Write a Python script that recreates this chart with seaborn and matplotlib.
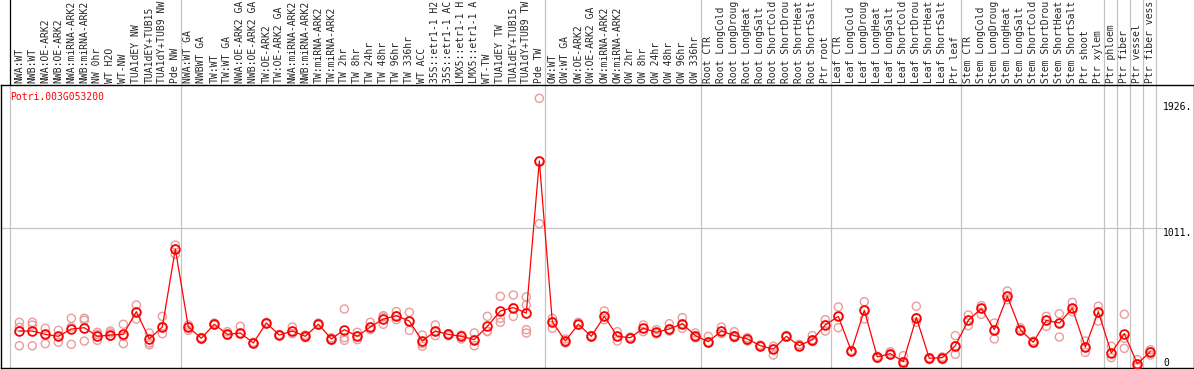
"""
Potri.003G053200 expression profile across samples (eFP-style line plot).
Saves out.png in the current folder.
"""

import matplotlib
matplotlib.use('Agg')
import matplotlib.pyplot as plt
import numpy as np
import pandas as pd
import seaborn as sns

GENE = 'Potri.003G053200'

SAMPLES = [
    'NWA:WT', 'NWB:WT', 'NWA:OE-ARK2', 'NWB:OE-ARK2', 'NWA:miRNA-ARK2',
    'NWB:miRNA-ARK2', 'NW 0hr', 'WT H2O', 'WT-NW', 'TUA1dEY NW',
    'TUA1dEY+TUB15', 'TUA1dY+TUB9 NW', 'Pde NW',
    'NWA:WT GA', 'NWBWT GA', 'TW:WT', 'TW:WT GA', 'NWA:OE-ARK2 GA',
    'NWB:OE-ARK2 GA', 'TW:OE-ARK2', 'TW:OE-ARK2 GA', 'NWA:miRNA-ARK2',
    'NWB:miRNA-ARK2', 'TW:miRNA-ARK2', 'TW:miRNA-ARK2', 'TW 2hr', 'TW 8hr',
    'TW 24hr', 'TW 48hr', 'TW 96hr', 'TW 336hr', 'WT ACC', '35S::etr1-1 H2',
    '35S::etr1-1 AC', 'LMX5::etr1-1 H', 'LMX5::etr1-1 A', 'WT-TW',
    'TUA1dEY TW', 'TUA1dEY+TUB15', 'TUA1dY+TUB9 TW', 'Pde TW',
    'OW:WT', 'OW:WT GA', 'OW:OE-ARK2', 'OW:OE-ARK2 GA', 'OW:miRNA-ARK2',
    'OW:miRNA-ARK2', 'OW 2hr', 'OW 8hr', 'OW 24hr', 'OW 48hr', 'OW 96hr',
    'OW 336hr',
    'Root CTR', 'Root LongCold', 'Root LongDroug', 'Root LongHeat',
    'Root LongSalt', 'Root ShortCold', 'Root ShortDrou', 'Root ShortHeat',
    'Root ShortSalt', 'Ptr root',
    'Leaf CTR', 'Leaf LongCold', 'Leaf LongDroug', 'Leaf LongHeat',
    'Leaf LongSalt', 'Leaf ShortCold', 'Leaf ShortDrou', 'Leaf ShortHeat',
    'Leaf ShortSalt', 'Ptr leaf',
    'Stem CTR', 'Stem LongCold', 'Stem LongDroug', 'Stem LongHeat',
    'Stem LongSalt', 'Stem ShortCold', 'Stem ShortDrou', 'Stem ShortHeat',
    'Stem ShortSalt', 'Ptr shoot', 'Ptr xylem',
    'Ptr phloem', 'Ptr fiber', 'Ptr vessel', 'Ptr fiber vess',
]

MEAN = [
    269, 269, 245, 231, 284, 293, 231, 240, 245, 409, 212, 298, 861,
    298, 217, 318, 245, 255, 183, 327, 240, 269, 231, 318, 212, 279, 231,
    298, 356, 380, 341, 197, 269, 245, 231, 207, 303, 414, 438, 399, 1497,
    337, 197, 318, 231, 375, 231, 221, 289, 260, 284, 322, 236,
    192, 269, 236, 212, 163, 139, 231, 163, 207, 313,
    375, 125, 419, 82, 106, 48, 366, 72, 77, 163,
    346, 433, 279, 520, 279, 188, 346, 327, 433, 154, 409,
    110, 250, 33, 120,
]

REPS = [
    [332, 296, 163], [332, 312, 163], [289, 245, 178], [274, 231, 188],
    [361, 298, 173], [361, 347, 197], [260, 245, 202], [269, 255, 231],
    [318, 231, 178], [457, 409, 356], [255, 183, 169], [375, 303, 250],
    [890, 861, 823],
    [313, 298, 274], [222, 217, 212], [327, 318, 313], [264, 245, 240],
    [303, 255, 250], [188, 183, 178], [332, 327, 322], [245, 240, 236],
    [298, 269, 250], [240, 231, 221], [327, 318, 313], [221, 212, 202],
    [428, 221, 202], [260, 231, 207], [332, 298, 279], [380, 370, 318],
    [409, 380, 351], [404, 341, 274], [240, 178, 159], [313, 269, 236],
    [250, 245, 236], [240, 231, 212], [255, 207, 163], [375, 269, 264],
    [520, 361, 332], [529, 438, 375], [515, 457, 279, 255],
    [1949, 1497, 1044],
    [361, 337, 289], [212, 197, 183], [332, 318, 313], [236, 231, 226],
    [414, 375, 351], [264, 231, 197], [226, 221, 217], [313, 289, 264],
    [279, 260, 250], [322, 284, 269], [366, 322, 289], [255, 236, 221],
    [231, 192, 183], [298, 269, 250], [264, 236, 221], [221, 212, 197],
    [169, 163, 159], [159, 139, 96], [236, 231, 226], [173, 163, 159],
    [236, 207, 192], [351, 313, 269],
    [443, 375, 293], [130, 125, 120], [481, 419, 356], [87, 82, 72],
    [120, 106, 96], [91, 48, 24], [448, 366, 332], [77, 72, 63],
    [82, 77, 63], [236, 163, 101],
    [385, 346, 308], [453, 433, 390], [327, 279, 212], [558, 520, 495],
    [293, 279, 269], [197, 188, 183], [375, 346, 303], [394, 327, 226],
    [476, 433, 409], [197, 154, 115], [448, 409, 341],
    [159, 110, 77], [390, 217, 144], [62, 33, 9], [134, 120, 96],
]

# last sample index of each group -> vertical separators
GROUP_LAST = [12, 40, 52, 62, 72, 83, 84, 85, 86, 87]

Y_TICKS = [0, 1011, 1926]
Y_TICK_LABELS = ['0', '1011.', '1926.']

# --- style ---
sns.set_style('white')
MONO = ['DejaVu Sans Mono']
plt.rcParams['font.family'] = MONO

pos = np.arange(len(SAMPLES))
mean_df = pd.DataFrame({'pos': pos, 'value': MEAN})
rep_df = pd.DataFrame(
    [(i, v) for i, vals in enumerate(REPS) for v in vals],
    columns=['pos', 'value'],
)

fig = plt.figure(figsize=(11.94, 3.70), dpi=100)
ax = fig.add_axes([1 / 1194, 1.7 / 370, 1193 / 1194, 283.3 / 370])

GRID = '#c4c4c4'
# vertical separators, running up through the label band
ax.axvline(-0.72, ymin=0, ymax=1, color=GRID, lw=0.9, zorder=1)
ax.axvline(-0.72, ymin=1, ymax=1.31, color='black', lw=0.9, clip_on=False)
for last in GROUP_LAST:
    ax.axvline(last + 0.4, ymin=0, ymax=1.31, color=GRID, lw=0.9,
               clip_on=False, zorder=1)
ax.axhline(Y_TICKS[1], xmin=0, xmax=0.973, color=GRID, lw=0.9, zorder=1)

sns.scatterplot(
    data=rep_df, x='pos', y='value', ax=ax,
    s=34, facecolor='none', edgecolor='#ea9c9c', linewidth=1.0,
    zorder=2, legend=False,
)
sns.lineplot(
    data=mean_df, x='pos', y='value', ax=ax,
    color='red', lw=0.9, marker='o', markersize=6.3,
    markerfacecolor='none', markeredgecolor='red', markeredgewidth=1.3,
    zorder=3, legend=False,
)

ax.set_xlim(-1.41, 90.36)
ax.set_ylim(0, 2045.5)

ax.set_xticks(pos)
ax.set_xticklabels(SAMPLES, rotation=90, fontsize=7, family=MONO)
ax.xaxis.tick_top()
ax.tick_params(axis='x', length=0, pad=1.5)
ax.set_yticks([])
ax.set_xlabel('')
ax.set_ylabel('')

for v, lab in zip(Y_TICKS, Y_TICK_LABELS):
    ax.text(88.0, v, lab, fontsize=7, family=MONO, ha='left',
            va='bottom' if v == 0 else 'top', color='black')

ax.text(9 / 1193, 0.958, GENE, transform=ax.transAxes, color='red',
        fontsize=7, family=MONO, ha='left', va='center')

for side in ['left', 'top', 'bottom', 'right']:
    ax.spines[side].set_visible(True)
    ax.spines[side].set_color('black')
    ax.spines[side].set_linewidth(1.0)

fig.savefig('out.png', dpi=100)
